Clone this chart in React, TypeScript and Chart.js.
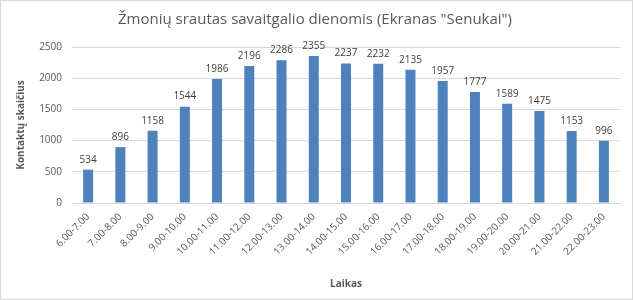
import React, { useEffect, useRef } from "react";
import { Chart, registerables } from "chart.js";

Chart.register(...registerables);

const categories = [
  "6.00-7.00", "7.00-8.00", "8.00-9.00", "9.00-10.00", "10.00-11.00", "11.00-12.00",
  "12.00-13.00", "13.00-14.00", "14.00-15.00", "15.00-16.00", "16.00-17.00", "17.00-18.00",
  "18.00-19.00", "19.00-20.00", "20.00-21.00", "21.00-22.00", "22.00-23.00",
];
const values = [534, 896, 1158, 1544, 1986, 2196, 2286, 2355, 2237, 2232, 2135, 1957, 1777, 1589, 1475, 1153, 996];
const titleText = 'Žmonių srautas savaitgalio dienomis (Ekranas "Senukai")';
const yTitle = "Kontaktų skaičius";
const xTitle = "Laikas";

const FONT = "'Open Sans', 'Liberation Sans', sans-serif";

const labelPlugin = {
  id: "dataLabels",
  afterDatasetsDraw(chart: any) {
    const ctx = chart.ctx;
    const meta = chart.getDatasetMeta(0);
    ctx.save();
    ctx.font = `10px ${FONT}`;
    ctx.fillStyle = "#404040";
    ctx.textAlign = "center";
    ctx.textBaseline = "bottom";
    meta.data.forEach((bar: any, i: number) => {
      ctx.fillText(String(values[i]), bar.x, bar.y - 5);
    });
    ctx.restore();
  },
};

const borderPlugin = {
  id: "frame",
  beforeDraw(chart: any) {
    const ctx = chart.ctx;
    ctx.save();
    ctx.fillStyle = "#ffffff";
    ctx.fillRect(0, 0, chart.width, chart.height);
    ctx.strokeStyle = "#d9d9d9";
    ctx.lineWidth = 1;
    ctx.strokeRect(0.5, 0.5, chart.width - 1, chart.height - 1);
    ctx.restore();
  },
};

export default function App() {
  const ref = useRef<HTMLCanvasElement>(null);
  useEffect(() => {
    document.body.style.margin = "0";
    const chart = new Chart(ref.current!, {
      type: "bar",
      data: {
        labels: categories,
        datasets: [
          {
            data: values,
            backgroundColor: "#4f81bd",
            barPercentage: 0.62,
            categoryPercentage: 0.5,
          },
        ],
      },
      options: {
        animation: false,
        responsive: false,
        layout: { padding: { left: 10, right: 13, top: 0, bottom: 0 } },
        plugins: {
          legend: { display: false },
          tooltip: { enabled: false },
          title: {
            display: true,
            text: titleText,
            color: "#595959",
            font: { family: FONT, size: 15, weight: "normal" },
            padding: { top: 11, bottom: 18 },
          },
        },
        scales: {
          x: {
            grid: { display: false, drawTicks: false },
            border: { color: "#d9d9d9" },
            ticks: {
              color: "#595959",
              font: { family: FONT, size: 10 },
              maxRotation: 45,
              minRotation: 45,
              padding: 8,
              autoSkip: false,
            },
            title: {
              display: true,
              text: xTitle,
              color: "#595959",
              font: { family: FONT, size: 10, weight: "bold" },
              padding: { top: 4, bottom: 10 },
            },
            afterFit: (s: any) => {
              s.height = 97;
            },
          },
          y: {
            min: 0,
            max: 2500,
            ticks: {
              stepSize: 500,
              color: "#595959",
              font: { family: FONT, size: 10 },
              padding: 10,
              callback: (v: any) => String(v),
            },
            grid: { color: "#d9d9d9", drawTicks: false },
            border: { display: false },
            title: {
              display: true,
              text: yTitle,
              color: "#595959",
              font: { family: FONT, size: 10, weight: "bold" },
              padding: { top: 5, bottom: 6 },
            },
            afterFit: (s: any) => {
              s.width = 62;
            },
          },
        },
      },
      plugins: [borderPlugin, labelPlugin],
    });
    return () => chart.destroy();
  }, []);
  return <canvas ref={ref} width={633} height={300} style={{ display: "block" }} />;
}
